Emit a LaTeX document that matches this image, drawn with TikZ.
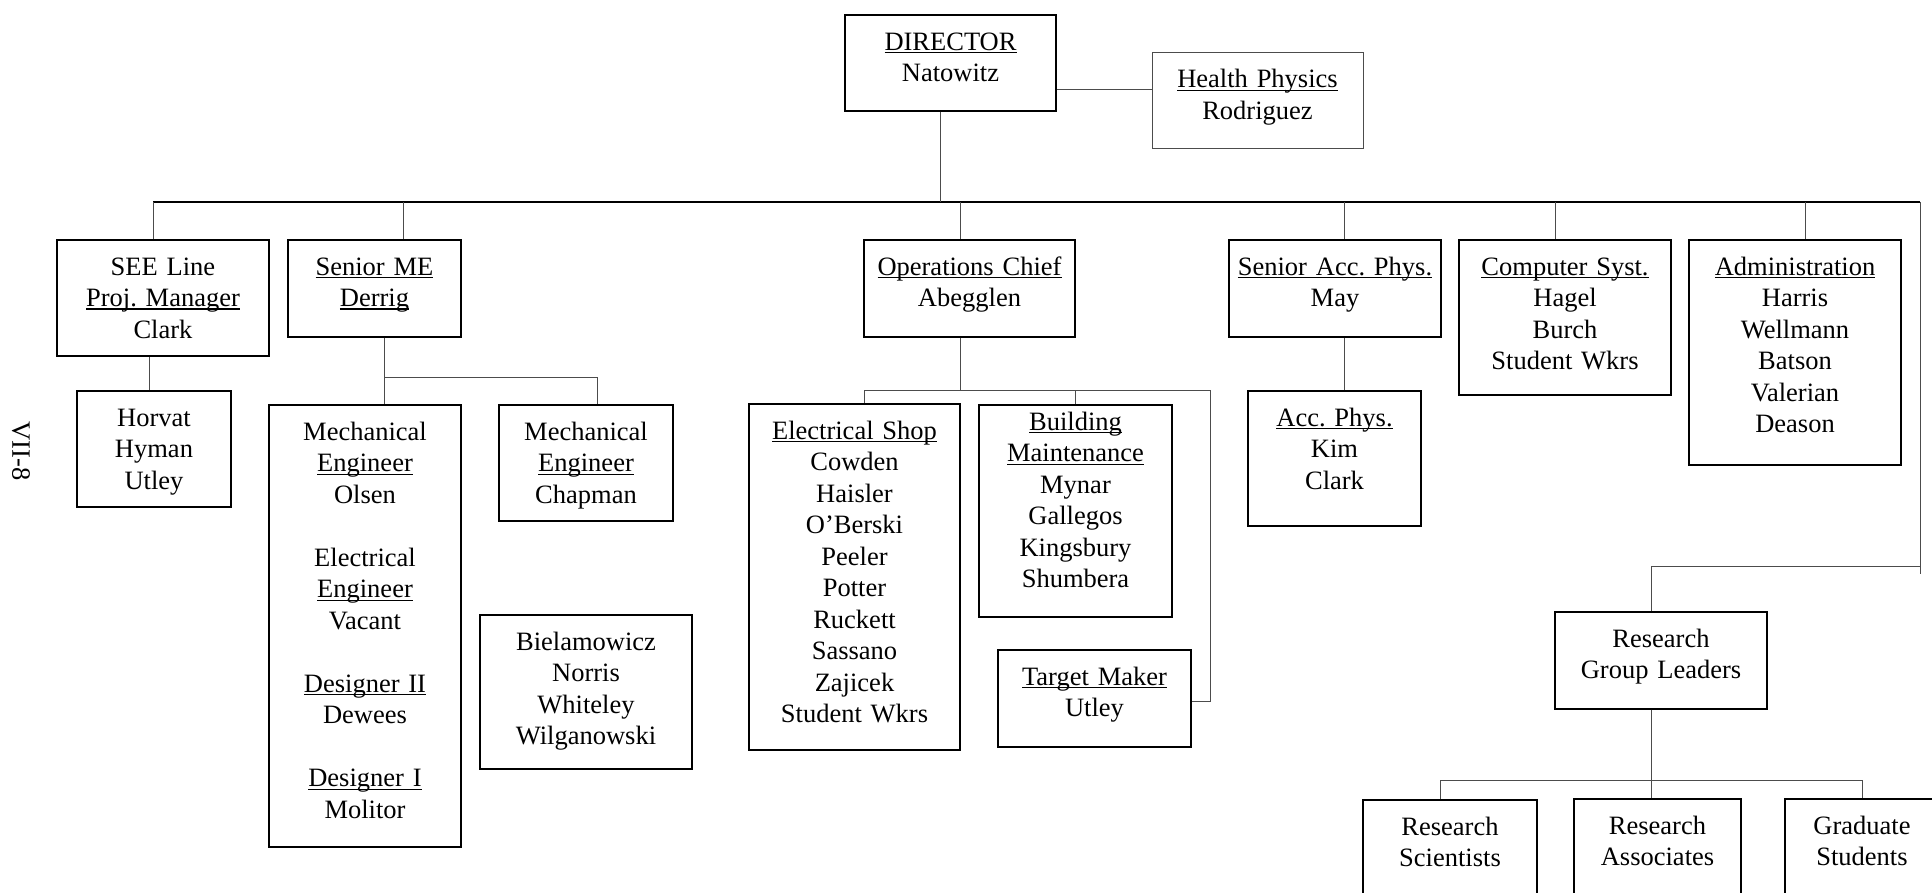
\documentclass[tikz,border=0pt]{standalone}
\usepackage{fontspec}
\setmainfont{Liberation Serif}
\frenchspacing
\definecolor{wire}{rgb}{0.3,0.3,0.3}

% underline at a fixed depth, crossing the descenders
\newcommand{\uln}[1]{\leavevmode\setbox0\hbox{#1}\rlap{\rule[-2.8pt]{\wd0}{1.1pt}}\box0}

\tikzset{
  cell/.style={draw, line width=1.6pt, anchor=north, inner sep=0pt, align=center,
    font=\fontsize{26.5}{31.5}\selectfont, text height=35.5pt},
  boxh/.style={text depth={#1pt-35.5pt}},
  link/.style={draw=wire, line width=1pt},
  bus/.style={draw=black, line width=2pt}
}

\begin{document}
\begin{tikzpicture}[x=1pt,y=-1pt]

  \useasboundingbox (0,0) rectangle (1932,893);
  \clip (0,0) rectangle (1932,893);

  \node[rotate=-90, font=\fontsize{26.5}{31.5}\selectfont] (pageno) at (21,451) {VII-8};

  % top
  \node[cell, text width=211pt, boxh=96] (director) at (950.5,14) {\uln{DIRECTOR}\\Natowitz};
  \node[cell, draw=wire, line width=1pt, text width=211pt, boxh=96] (health) at (1257.5,52) {\uln{Health Physics}\\Rodriguez};

  % second row
  \node[cell, text width=212pt, boxh=116] (seeline) at (163,239) {SEE Line\\\uln{Proj. Manager}\\Clark};
  \node[cell, text width=173pt, boxh=97] (seniorme) at (374.5,239) {\uln{Senior ME}\\\uln{Derrig}};
  \node[cell, text width=211pt, boxh=97] (opschief) at (969.5,239) {\uln{Operations Chief}\\Abegglen};
  \node[cell, text width=212pt, boxh=97] (senioracc) at (1335,239) {\uln{Senior Acc. Phys.}\\May};
  \node[cell, text width=212pt, boxh=155] (compsyst) at (1565,239) {\uln{Computer Syst.}\\Hagel\\Burch\\Student Wkrs};
  \node[cell, text width=212pt, boxh=225] (admin) at (1795,239) {\uln{Administration}\\Harris\\Wellmann\\Batson\\Valerian\\Deason};

  % third row
  \node[cell, text width=154pt, boxh=116] (horvat) at (154,390) {Horvat\\Hyman\\Utley};
  \node[cell, text width=192pt, boxh=442] (mecheng) at (365,404)
    {Mechanical\\\uln{Engineer}\\Olsen\\[31.5pt]Electrical\\\uln{Engineer}\\Vacant\\[31.5pt]%
     \uln{Designer II}\\Dewees\\[31.5pt]\uln{Designer I}\\Molitor};
  \node[cell, text width=174pt, boxh=116] (chapman) at (586,404) {Mechanical\\\uln{Engineer}\\Chapman};
  \node[cell, text width=212pt, boxh=154] (bielam) at (586,614) {Bielamowicz\\Norris\\Whiteley\\Wilganowski};
  \node[cell, text width=211pt, boxh=346] (elecshop) at (854.5,403)
    {\uln{Electrical Shop}\\Cowden\\Haisler\\O’Berski\\Peeler\\Potter\\Ruckett\\Sassano\\Zajicek\\Student Wkrs};
  \node[cell, text width=193pt, text height=25.5pt, text depth=186.5pt] (buildmaint) at (1075.5,404)
    {\uln{Building}\\\uln{Maintenance}\\Mynar\\Gallegos\\Kingsbury\\Shumbera};
  \node[cell, text width=193pt, boxh=97] (target) at (1094.5,649) {\uln{Target Maker}\\Utley};
  \node[cell, text width=173pt, boxh=135] (accphys) at (1334.5,390) {\uln{Acc. Phys.}\\Kim\\Clark};

  % research groups
  \node[cell, text width=212pt, boxh=97] (rgl) at (1661,611) {Research\\Group Leaders};
  \node[cell, text width=174pt, boxh=120] (resci) at (1450,799) {Research\\Scientists};
  \node[cell, text width=167pt, boxh=120] (resassoc) at (1657.5,798) {Research\\Associates};
  \node[cell, text width=154pt, boxh=120] (gradstud) at (1862,798) {Graduate\\Students};

  % main bus
  \coordinate (barL) at (153,202);
  \coordinate (barR) at (1920,202);
  \draw[bus] (barL) -- (barR);

  \draw[link] ([xshift=-10.5pt]director.south) -- ([xshift=-10.5pt]director.south |- barL);
  \draw[link] ([yshift=11pt]health.west) -- ([yshift=11pt]health.west -| director.east);

  \foreach \n/\s in {seeline/-10pt, seniorme/29pt, opschief/-9.5pt, senioracc/9pt, compsyst/-10pt, admin/10pt}
    \draw[link] ([xshift=\s]\n.north) -- ([xshift=\s]\n.north |- barL);

  % under SEE line and senior ME
  \draw[link] ([xshift=-5pt]horvat.north) -- ([xshift=-5pt]horvat.north |- seeline.south);

  \coordinate (meL) at (384,377);
  \coordinate (meR) at (597,377);
  \draw[link] (meL |- seniorme.south) -- (meL |- mecheng.north);
  \draw[link] (meL) -- (meR) -- (meR |- chapman.north);

  % under operations
  \coordinate (opsL) at (864,390);
  \coordinate (opsR) at (1210,390);
  \draw[link] ([xshift=-9.5pt]opschief.south) -- ([xshift=-9.5pt]opschief.south |- opsL);
  \draw[link] (opsL |- elecshop.north) -- (opsL) -- (opsR) |- ([yshift=-3.5pt]target.east);
  \draw[link] (buildmaint.north) -- (buildmaint.north |- opsL);

  \draw[link] ([xshift=9.5pt]accphys.north) -- ([xshift=9.5pt]accphys.north |- senioracc.south);

  % right side down to the research groups
  \coordinate (rjoin) at (1920,566);
  \coordinate (rend) at (1920,574);
  \draw[link] (barR) -- (rend);
  \draw[link] (rjoin) -| ([xshift=-9.5pt]rgl.north);

  \coordinate (resL) at (1440,780);
  \coordinate (resR) at (1862,780);
  \draw[link] ([xshift=-9.5pt]rgl.south) -- ([xshift=-9.5pt]rgl.south |- resassoc.north);
  \draw[link] (resL |- resci.north) -- (resL) -- (resR) -- (resR |- gradstud.north);

\end{tikzpicture}
\end{document}
